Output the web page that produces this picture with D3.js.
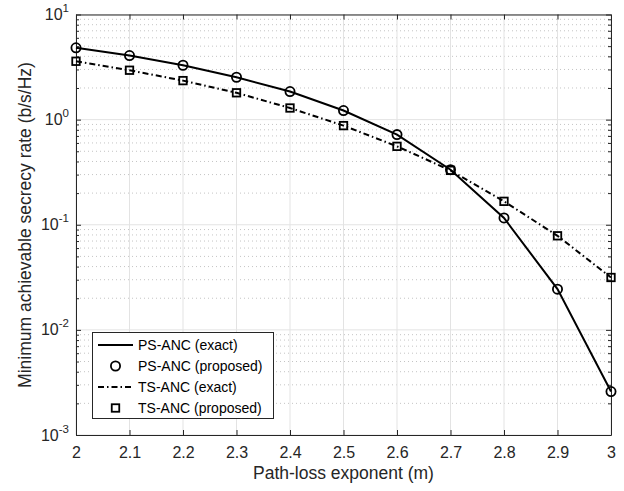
<!DOCTYPE html>
<html>
<head>
<meta charset="utf-8">
<script src="https://cdn.jsdelivr.net/npm/d3@7"></script>
<style>
  html, body { margin: 0; padding: 0; background: #fff; }
  svg { display: block; font-family: "Liberation Sans", Arial, sans-serif; }
</style>
</head>
<body>
<svg id="chart" width="624" height="491"></svg>
<script>
// Path-loss exponent values (x axis)
const pathLoss = [2.0, 2.1, 2.2, 2.3, 2.4, 2.5, 2.6, 2.7, 2.8, 2.9, 3.0];
// Minimum achievable secrecy rate (b/s/Hz)
const psExact = [4.82, 4.07, 3.29, 2.53, 1.85, 1.22, 0.72, 0.334, 0.116, 0.0244, 0.00259];
const psProposed = [4.82, 4.07, 3.29, 2.53, 1.85, 1.22, 0.72, 0.334, 0.116, 0.0244, 0.00259];
const tsExact = [3.59, 2.95, 2.35, 1.80, 1.29, 0.877, 0.557, 0.329, 0.167, 0.0785, 0.0315];
const tsProposed = [3.59, 2.95, 2.35, 1.80, 1.29, 0.877, 0.557, 0.329, 0.167, 0.0785, 0.0315];
const xTicks = [2, 2.1, 2.2, 2.3, 2.4, 2.5, 2.6, 2.7, 2.8, 2.9, 3];
const yDecades = [-3, -2, -1, 0, 1];
const legendLabels = ["PS-ANC (exact)", "PS-ANC (proposed)", "TS-ANC (exact)", "TS-ANC (proposed)"];

const svg = d3.select("#chart");
const L = 76, R = 611, T = 14.5, B = 435;
const dashDot = "6,3,1.5,3";
const circR = 4.6, sq = 7.5, mw = 1.8;

const x = d3.scaleLinear().domain([2, 3]).range([L, R]);
const y = d3.scaleLog().domain([1e-3, 10]).range([B, T]);

const g = svg.append("g");

// minor grid (dotted)
const minorVals = [];
for (let d = -3; d < 1; d++) for (let k = 2; k <= 9; k++) minorVals.push(k * Math.pow(10, d));
const majorVals = yDecades.map(d => Math.pow(10, d));
g.selectAll(".minor").data(minorVals).enter().append("line")
  .attr("x1", L).attr("x2", R)
  .attr("y1", d => y(d)).attr("y2", d => y(d))
  .attr("stroke", "#c4c4c4").attr("stroke-width", 1)
  .attr("stroke-dasharray", "1,3");

// major grid
g.selectAll(".vgrid").data(xTicks).enter().append("line")
  .attr("x1", d => x(d)).attr("x2", d => x(d))
  .attr("y1", T).attr("y2", B)
  .attr("stroke", "#e3e3e3").attr("stroke-width", 1);
g.selectAll(".hgrid").data(majorVals).enter().append("line")
  .attr("x1", L).attr("x2", R)
  .attr("y1", d => y(d)).attr("y2", d => y(d))
  .attr("stroke", "#e3e3e3").attr("stroke-width", 1);

// axes frame and inward ticks
const axisColor = "#262626";
const isMajor = d => Math.abs(Math.log10(d) - Math.round(Math.log10(d))) < 1e-9;
const xb = d3.axisBottom(x).tickValues(xTicks).tickSizeInner(-5).tickSizeOuter(0)
  .tickFormat(d3.format("")).tickPadding(12);
const xt = d3.axisTop(x).tickValues(xTicks).tickSizeInner(-5).tickSizeOuter(0).tickFormat("");
const yl = d3.axisLeft(y).tickValues(minorVals.concat(majorVals)).tickSizeOuter(0).tickFormat("");
const yr = d3.axisRight(y).tickValues(minorVals.concat(majorVals)).tickSizeOuter(0).tickFormat("");

function styleAxis(sel) {
  sel.select(".domain").attr("stroke", axisColor).attr("stroke-width", 1);
  sel.selectAll(".tick line").attr("stroke", axisColor);
  sel.selectAll(".tick text").attr("fill", "#262626").attr("font-size", 16)
    .attr("font-family", "Liberation Sans, Arial, sans-serif");
}
const gxb = svg.append("g").attr("transform", `translate(0,${B})`).call(xb); styleAxis(gxb);
const gxt = svg.append("g").attr("transform", `translate(0,${T})`).call(xt); styleAxis(gxt);
const gyl = svg.append("g").attr("transform", `translate(${L},0)`).call(yl); styleAxis(gyl);
const gyr = svg.append("g").attr("transform", `translate(${R},0)`).call(yr); styleAxis(gyr);
gyl.selectAll(".tick line").attr("x2", d => isMajor(d) ? 5 : 3);
gyr.selectAll(".tick line").attr("x2", d => isMajor(d) ? -5 : -3);

// y decade labels 10^n
yDecades.forEach(d => {
  const t = svg.append("text")
    .attr("x", L - 7).attr("y", y(Math.pow(10, d)) + 5.5)
    .attr("text-anchor", "end").attr("font-size", 16).attr("fill", "#262626");
  t.append("tspan").text("10");
  t.append("tspan").attr("dy", -8).attr("font-size", 11.5).text(d);
});

// axis titles
svg.append("text").attr("x", (L + R) / 2).attr("y", 479)
  .attr("text-anchor", "middle").attr("font-size", 17.5).attr("fill", "#262626")
  .text("Path-loss exponent (m)");
svg.append("text").attr("transform", `translate(31,225) rotate(-90)`)
  .attr("text-anchor", "middle").attr("font-size", 17.5).attr("fill", "#262626")
  .text("Minimum achievable secrecy rate (b/s/Hz)");

// series
const line = d3.line().x((d, i) => x(pathLoss[i])).y(d => y(d));
const plot = svg.append("g");
plot.append("path").datum(psExact).attr("d", line)
  .attr("fill", "none").attr("stroke", "#000").attr("stroke-width", 2);
plot.append("path").datum(tsExact).attr("d", line)
  .attr("fill", "none").attr("stroke", "#000").attr("stroke-width", 2)
  .attr("stroke-dasharray", dashDot);
plot.selectAll(".circ").data(psProposed).enter().append("circle")
  .attr("cx", (d, i) => x(pathLoss[i])).attr("cy", d => y(d)).attr("r", circR)
  .attr("fill", "none").attr("stroke", "#000").attr("stroke-width", mw);
plot.selectAll(".sq").data(tsProposed).enter().append("rect")
  .attr("x", (d, i) => x(pathLoss[i]) - sq / 2).attr("y", d => y(d) - sq / 2)
  .attr("width", sq).attr("height", sq)
  .attr("fill", "none").attr("stroke", "#000").attr("stroke-width", mw);

// legend
const lg = svg.append("g");
lg.append("rect").attr("x", 92.5).attr("y", 332.5).attr("width", 181).attr("height", 86)
  .attr("fill", "#fff").attr("stroke", axisColor).attr("stroke-width", 1);
const rowsY = [345, 366, 387, 408];
legendLabels.forEach((lab, i) => {
  const yy = rowsY[i];
  if (i === 0) lg.append("line").attr("x1", 98).attr("x2", 133).attr("y1", yy).attr("y2", yy)
    .attr("stroke", "#000").attr("stroke-width", 2);
  if (i === 2) lg.append("line").attr("x1", 98).attr("x2", 133).attr("y1", yy).attr("y2", yy)
    .attr("stroke", "#000").attr("stroke-width", 2).attr("stroke-dasharray", dashDot);
  if (i === 1) lg.append("circle").attr("cx", 115.5).attr("cy", yy).attr("r", circR)
    .attr("fill", "none").attr("stroke", "#000").attr("stroke-width", mw);
  if (i === 3) lg.append("rect").attr("x", 115.5 - sq / 2).attr("y", yy - sq / 2).attr("width", sq).attr("height", sq)
    .attr("fill", "none").attr("stroke", "#000").attr("stroke-width", mw);
  lg.append("text").attr("x", 138).attr("y", yy + 5).attr("font-size", 14).attr("fill", "#000").text(lab);
});
</script>
</body>
</html>
